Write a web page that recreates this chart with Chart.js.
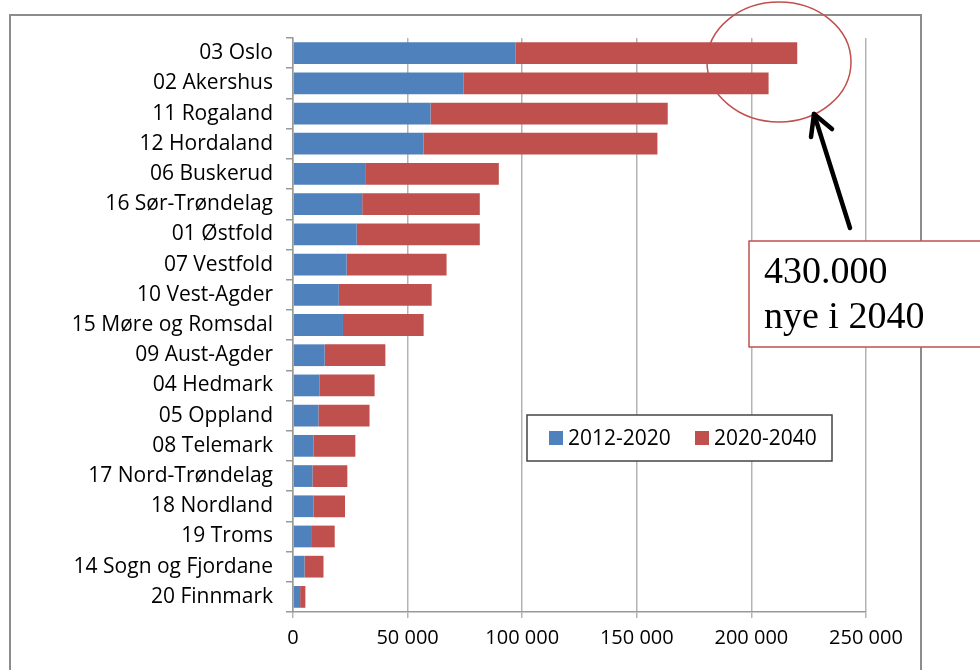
<!DOCTYPE html>
<html>
<head>
<meta charset="utf-8">
<script src="https://cdn.jsdelivr.net/npm/chart.js@4/dist/chart.umd.min.js"></script>
<style>
html,body{margin:0;padding:0;background:#fff;overflow:hidden}
#frame{position:absolute;left:9px;top:14px;width:913px;height:700px;border:2px solid #8c8c8c;box-sizing:border-box}
#wrap{position:absolute;left:0;top:0;width:980px;height:670px}
</style>
</head>
<body>
<div id="frame"></div>
<div id="wrap"><canvas id="chart" width="980" height="670"></canvas></div>
<script>
const fylker = [
  "03 Oslo", "02 Akershus", "11 Rogaland", "12 Hordaland", "06 Buskerud",
  "16 Sør-Trøndelag", "01 Østfold", "07 Vestfold", "10 Vest-Agder", "15 Møre og Romsdal",
  "09 Aust-Agder", "04 Hedmark", "05 Oppland", "08 Telemark", "17 Nord-Trøndelag",
  "18 Nordland", "19 Troms", "14 Sogn og Fjordane", "20 Finnmark"
];
const periode1 = [97000, 74500, 60000, 57000, 31800, 30200, 27800, 23400, 20000, 21800,
  13800, 11500, 11100, 9000, 8500, 9000, 7900, 5000, 3100];
const periode2 = [123000, 133000, 103500, 102000, 58000, 51300, 53700, 43600, 40500, 35200,
  26500, 24100, 22300, 18200, 15200, 13700, 10300, 8300, 2300];
const xTicks = [0, 50000, 100000, 150000, 200000, 250000];
const boksTekst = ["430.000", "nye i 2040"];

const BLUE = "#4f81bd";
const RED = "#c0504d";

Chart.defaults.font.family = "'Open Sans', sans-serif";
Chart.defaults.font.size = 20;
Chart.defaults.color = "#000";

function fmt(v){
  return String(v).replace(/\B(?=(\d{3})+(?!\d))/g, " ");
}

/* legend inside plot area, Excel style */
const legendBox = {
  id: "legendBox",
  afterDraw(chart){
    const ctx = chart.ctx;
    const x = 527, y = 415, w = 305, h = 46;
    ctx.save();
    ctx.fillStyle = "#fff";
    ctx.fillRect(x, y, w, h);
    ctx.strokeStyle = "#444";
    ctx.lineWidth = 1.5;
    ctx.strokeRect(x, y, w, h);
    ctx.font = "21px 'Open Sans', sans-serif";
    ctx.textBaseline = "middle";
    let px = x + 22;
    chart.data.datasets.forEach(ds=>{
      ctx.fillStyle = ds.backgroundColor;
      ctx.fillRect(px, y + 16, 14, 14);
      ctx.fillStyle = "#000";
      ctx.fillText(ds.label, px + 19, y + 24);
      px += 146;
    });
    ctx.restore();
  }
};

/* ellipse, arrow and text box */
const merknad = {
  id: "merknad",
  afterDraw(chart){
    const ctx = chart.ctx;
    ctx.save();
    ctx.strokeStyle = RED;
    ctx.lineWidth = 1.5;
    ctx.beginPath();
    ctx.ellipse(779, 62, 72, 60, 0, 0, Math.PI*2);
    ctx.stroke();

    ctx.strokeStyle = "#000";
    ctx.lineWidth = 4.5;
    ctx.lineCap = "round";
    ctx.lineJoin = "round";
    ctx.beginPath();
    ctx.moveTo(850, 228);
    ctx.lineTo(814, 114);
    ctx.stroke();
    ctx.beginPath();
    ctx.moveTo(811, 137);
    ctx.lineTo(814, 114);
    ctx.lineTo(832, 129);
    ctx.stroke();

    ctx.fillStyle = "#fff";
    ctx.fillRect(749, 241, 240, 106);
    ctx.strokeStyle = RED;
    ctx.lineWidth = 1.5;
    ctx.strokeRect(749, 241, 240, 106);
    ctx.fillStyle = "#000";
    ctx.font = "38px 'Liberation Serif', serif";
    ctx.textBaseline = "alphabetic";
    ctx.fillText(boksTekst[0], 764, 283);
    ctx.fillText(boksTekst[1], 764, 328);
    ctx.restore();
  }
};

new Chart(document.getElementById("chart"), {
  type: "bar",
  data: {
    labels: fylker,
    datasets: [
      {label: "2012-2020", data: periode1, backgroundColor: BLUE, barPercentage: 0.72, categoryPercentage: 1},
      {label: "2020-2040", data: periode2, backgroundColor: RED, barPercentage: 0.72, categoryPercentage: 1}
    ]
  },
  options: {
    indexAxis: "y",
    responsive: false,
    animation: false,
    layout: {padding: {top: 38, right: 114, bottom: 0, left: 0}},
    plugins: {legend: {display: false}, tooltip: {enabled: false}},
    scales: {
      x: {
        stacked: true,
        min: 0,
        max: 250000,
        afterBuildTicks: s => { s.ticks = xTicks.map(v => ({value: v})); },
        afterFit: s => { s.height = 58; },
        ticks: {callback: v => fmt(v), padding: 8, maxRotation: 0},
        grid: {color: "#b4b4b4", lineWidth: 1.5, tickLength: 6},
        border: {color: "#999", width: 1.5}
      },
      y: {
        stacked: true,
        afterFit: s => { s.width = 293; },
        ticks: {padding: 13, font: {size: 21}},
        grid: {drawOnChartArea: false, color: "#999", tickLength: 7, lineWidth: 1.5},
        border: {color: "#999", width: 1.5}
      }
    }
  },
  plugins: [legendBox, merknad]
});
</script>
</body>
</html>
